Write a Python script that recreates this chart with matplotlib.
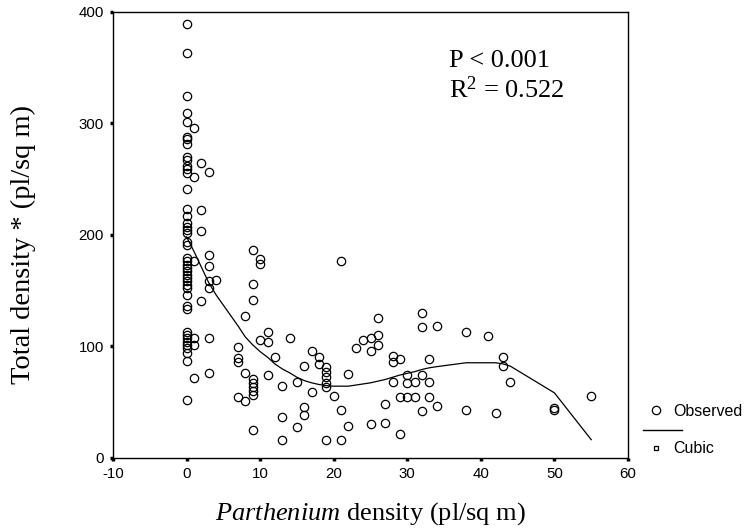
import matplotlib
matplotlib.use('Agg')
import matplotlib.pyplot as plt
from matplotlib.lines import Line2D

# =================================================================================
# Total plant density against Parthenium density, with a cubic fit
# =================================================================================

plt.rcParams['font.family'] = ['Liberation Sans', 'DejaVu Sans']
plt.rcParams['axes.unicode_minus'] = False
plt.rcParams['mathtext.fontset'] = 'custom'
plt.rcParams['mathtext.rm'] = 'Liberation Serif'
plt.rcParams['mathtext.it'] = 'Liberation Serif:italic'

# Observed points (Parthenium density, total density)
obs_x = ([0] * 44 + [1] * 6 + [2] * 4 + [3] * 7 + [4] + [7] * 4 + [8] * 3 + [9] * 9
         + [10] * 3 + [11] * 3 + [12] + [13] * 3 + [14] + [15] * 2 + [16] * 3 + [17] * 2
         + [18] * 2 + [19] * 6 + [20] + [21] * 3 + [22] * 2 + [23] + [24] + [25] * 3
         + [26] * 3 + [27] * 2 + [28] * 3 + [29] * 3 + [30] * 3 + [31] * 2 + [32] * 4
         + [33] * 3 + [34] * 2 + [38] * 2 + [41] + [42] + [43] * 2 + [44] + [50] * 2 + [55])
obs_y = [389, 363, 324, 309, 301, 288, 286, 281, 270, 267, 262, 259, 255, 241, 223,
         217, 210, 207, 204, 201, 193, 191, 179, 176, 173, 170, 167, 164, 161, 158,
         155, 152, 146, 136, 133, 113, 110, 107, 104, 101, 98, 94, 87, 52,
         296, 252, 176, 107, 101, 71,
         264, 222, 203, 140,
         256, 182, 172, 158, 152, 107, 76,
         159,
         99, 89, 86, 54,
         127, 76, 51,
         186, 156, 141, 70, 67, 63, 60, 56, 25,
         178, 174, 105,
         113, 104, 74,
         90,
         64, 36, 16,
         107,
         68, 27,
         82, 45, 38,
         96, 59,
         90, 84,
         81, 77, 72, 67, 63, 16,
         55,
         176, 43, 16,
         75, 28,
         98,
         105,
         107, 96, 30,
         125, 110, 101,
         48, 31,
         91, 86, 68,
         88, 54, 21,
         74, 67, 54,
         68, 54,
         130, 117, 74, 42,
         88, 68, 54,
         118, 46,
         113, 43,
         109,
         40,
         90, 82,
         68,
         44, 43,
         55]

# Cubic fit, read at each distinct x
fit_x = [0, 1, 2, 3, 4, 7, 8, 9, 10, 11, 12, 13, 14, 15, 16, 17, 18, 19, 20, 21,
         22, 23, 24, 25, 26, 27, 28, 29, 30, 31, 32, 33, 34, 38, 41, 42, 43, 44, 50, 55]
fit_y = [198, 185, 171, 157, 146, 118, 108, 101, 95, 90, 84, 79.5, 76, 72, 69, 67,
         65.5, 64.5, 64, 64, 64, 65, 66, 67, 68.5, 70, 72, 74, 75.5, 77, 79, 80.5,
         81.5, 85, 85, 85, 84, 82, 58, 16]

x_ticks = [-10, 0, 10, 20, 30, 40, 50, 60]
y_ticks = [0, 100, 200, 300, 400]

fig = plt.figure(figsize=(7.44, 5.32), dpi=100)
ax = fig.add_axes([113 / 744, 1 - 457.5 / 532, 515 / 744, 445.8 / 532])

ax.plot(obs_x, obs_y, 'o', mfc='none', mec='k', ms=6, mew=0.9, clip_on=False)
ax.plot(fit_x, fit_y, '-', color='k', lw=0.9)

ax.set_xlim(-10, 60)
ax.set_ylim(0, 400)
ax.set_xticks(x_ticks)
ax.set_yticks(y_ticks)
ax.tick_params(direction='out', length=2.5, width=2.5, labelsize=10.8, pad=4)
for s in ax.spines.values():
    s.set_linewidth(1.0)

serif = {'fontfamily': 'Liberation Serif', 'fontsize': 19}
ax.set_xlabel(r'$\mathit{Parthenium}$ density (pl/sq m)', labelpad=14, **serif)
ax.set_ylabel('Total density * (pl/sq m)', fontfamily='Liberation Serif', fontsize=20.5)
ax.yaxis.set_label_coords(-0.15, 0.477)

ax.text(0.652, 0.877, 'P < 0.001', transform=ax.transAxes, va='baseline', **serif)
ax.text(0.652, 0.807, 'R$^2$ = 0.522', transform=ax.transAxes, va='baseline', **serif)

# Legend: circle for observed, line + small square for cubic
h_obs = Line2D([], [], ls='none', marker='o', mfc='none', mec='k', ms=6, mew=0.9)
h_cub = Line2D([], [], ls='none', marker='s', mfc='none', mec='k', ms=3.5, mew=0.9)
fig.legend([h_obs, h_cub], ['Observed', 'Cubic'], loc='upper left',
           bbox_to_anchor=(638 / 744, 1 - 396 / 532), frameon=False, fontsize=11.5,
           handlelength=1.2, handletextpad=0.5, labelspacing=1.4, borderpad=0)
fig.add_artist(Line2D([643 / 744, 682 / 744], [1 - 430 / 532, 1 - 430 / 532],
                      transform=fig.transFigure, color='k', lw=1.0))

fig.savefig('out.png', dpi=100)
